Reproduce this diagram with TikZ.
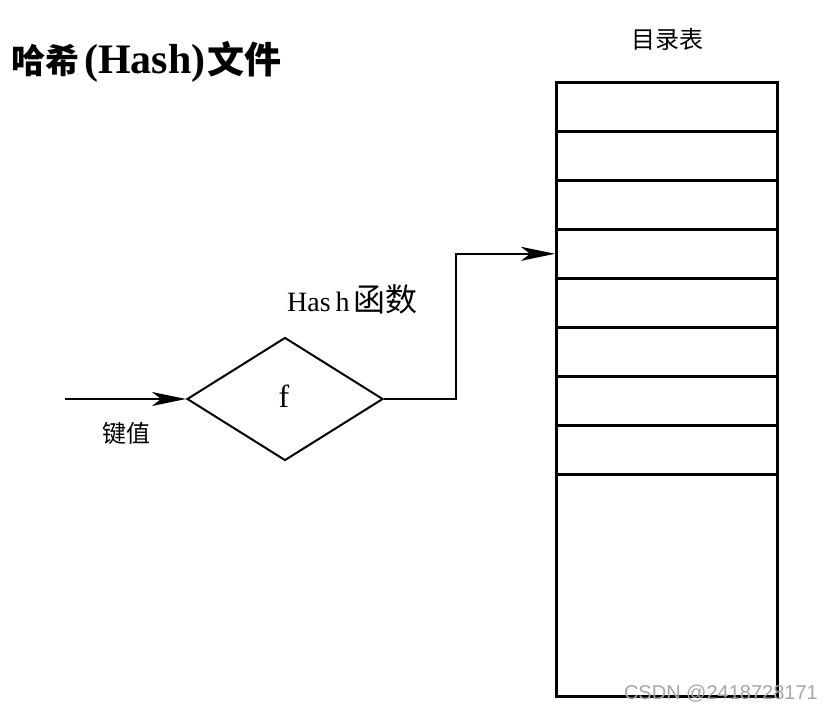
\documentclass[tikz,border=0pt]{standalone}
\usepackage{fontspec}
\setmainfont{Liberation Serif}
\newfontfamily\cjk{Noto Sans CJK SC}
\newfontfamily\wmfont{Liberation Sans}
\usetikzlibrary{shapes.geometric,arrows.meta}
\begin{document}
\begin{tikzpicture}[x=1pt,y=-1pt,
  line/.style={line width=1.8pt, black},
  arr/.style={line, -{Stealth[length=34pt,width=14pt,inset=9pt]}},
  cell/.style={draw, line width=2.6pt, minimum width=221pt, inner sep=0pt, anchor=north west},
  lbl/.style={inner sep=0pt}]
\useasboundingbox (0,0) rectangle (833,712);
% title
\node[lbl, anchor=west] (title) at (11,62) {\bfseries{\fontsize{34}{36}\selectfont\cjk 哈希}\hspace{5pt}{\fontsize{42}{44}\selectfont(Hash)}\hspace{2pt}{\fontsize{37}{38}\selectfont\cjk 文件}};
\node[lbl] (dirlbl) at (667,39) {\fontsize{24}{28}\selectfont\cjk 目录表};
% table cells
\node[cell, minimum height=49pt] (r1) at (555,81) {};
\node[cell, minimum height=49pt] (r2) at (555,130) {};
\node[cell, minimum height=49pt] (r3) at (555,179) {};
\node[cell, minimum height=49pt] (r4) at (555,228) {};
\node[cell, minimum height=49pt] (r5) at (555,277) {};
\node[cell, minimum height=49pt] (r6) at (555,326) {};
\node[cell, minimum height=49pt] (r7) at (555,375) {};
\node[cell, minimum height=49pt] (r8) at (555,424) {};
\node[cell, minimum height=222pt] (r9) at (555,473) {};
% diamond
\node[diamond, draw, line width=2pt, minimum width=196pt, minimum height=123pt, inner sep=0pt, aspect=1.6] (f) at (285,399) {};
\node[lbl] (flbl) at (284,396) {\fontsize{32}{36}\selectfont f};
\coordinate (in) at (65,399);
\draw[arr] (in) -- (f.west);
\node[lbl] (key) at (126,433) {\fontsize{24}{28}\selectfont\cjk 键值};
\node[lbl, anchor=west] (hashlbl) at (287,299) {\fontsize{28}{32}\selectfont Has\hspace{5pt}h\hspace{4pt}{\fontsize{32}{34}\selectfont\cjk 函数}};
\draw[arr] (f.east) -- (456,399) |- (r4.west);
% watermark
\node[lbl, text=gray!70, anchor=east] (wm) at (818,694) {\fontsize{20}{22}\selectfont\wmfont CSDN @2418728171};
\end{tikzpicture}
\end{document}
